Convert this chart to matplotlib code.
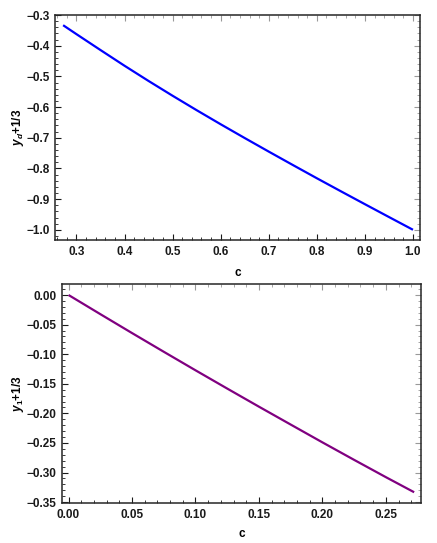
import matplotlib
matplotlib.use("Agg")
import matplotlib.pyplot as plt
from matplotlib.ticker import MultipleLocator, FuncFormatter

plt.rcParams['font.family'] = ['Liberation Sans', 'DejaVu Sans']
plt.rcParams['font.weight'] = 'bold'
plt.rcParams['mathtext.fontset'] = 'custom'
plt.rcParams['mathtext.it'] = 'Liberation Sans:italic:bold'
plt.rcParams['mathtext.rm'] = 'Liberation Sans:bold'
plt.rcParams['mathtext.bf'] = 'Liberation Sans:bold'

# upper panel: y_d + 1/3 against c
c_d = [0.2723, 0.30, 0.35, 0.40, 0.45, 0.50, 0.55, 0.60, 0.65, 0.70,
       0.75, 0.80, 0.85, 0.90, 0.95, 1.00]
y_d = [-0.3333, -0.3624, -0.4142, -0.4654, -0.5150, -0.5632, -0.6102,
       -0.6561, -0.7010, -0.7452, -0.7888, -0.8320, -0.8745, -0.9166,
       -0.9584, -1.0000]

# lower panel: y_1 + 1/3 against c
c_1 = [0.0, 0.025, 0.05, 0.075, 0.10, 0.125, 0.15, 0.175, 0.20, 0.225,
       0.25, 0.2723]
y_1 = [0.0, -0.0323, -0.0643, -0.0959, -0.1272, -0.1581, -0.1887,
       -0.2189, -0.2490, -0.2786, -0.3078, -0.3333]

W, H = 437, 543
fig = plt.figure(figsize=(W / 100, H / 100), dpi=100)


def fmt(nd):
    def f(v, pos):
        s = f'{v:.{nd}f}'
        if s.startswith('-'):
            s = '\u2212' + s[1:]
        return s
    return FuncFormatter(f)


def frame_axes(rect, xlim, ylim, xmaj, xmin, ymaj, ymin, nd):
    ax = fig.add_axes(rect)
    ax.set_xlim(*xlim)
    ax.set_ylim(*ylim)
    ax.xaxis.set_major_locator(MultipleLocator(xmaj))
    ax.xaxis.set_minor_locator(MultipleLocator(xmin))
    ax.yaxis.set_major_locator(MultipleLocator(ymaj))
    ax.yaxis.set_minor_locator(MultipleLocator(ymin))
    ax.xaxis.set_major_formatter(fmt(nd))
    ax.yaxis.set_major_formatter(fmt(nd))
    ax.tick_params(which='both', direction='in', color='0.1', labelsize=8.5,
                   labelcolor='0.1')
    ax.tick_params(which='major', length=4, width=0.8, pad=4)
    ax.tick_params(which='minor', length=2.2, width=0.6)
    for s in ax.spines.values():
        s.set_linewidth(1.1)
        s.set_color('0.15')

    # unlabelled ticks on the top and right, drawn lighter
    top = ax.secondary_xaxis('top')
    top.xaxis.set_major_locator(MultipleLocator(xmaj))
    top.xaxis.set_minor_locator(MultipleLocator(xmin))
    top.tick_params(which='both', direction='in', color='0.6', labeltop=False)
    top.tick_params(which='major', length=4, width=0.8)
    top.tick_params(which='minor', length=2.2, width=0.6)
    top.spines['top'].set_visible(False)
    right = ax.secondary_yaxis('right')
    right.yaxis.set_major_locator(MultipleLocator(ymaj))
    right.yaxis.set_minor_locator(MultipleLocator(ymin))
    right.tick_params(which='both', direction='in', color='0.6', labelright=False)
    right.tick_params(which='major', length=4, width=0.8)
    right.tick_params(which='minor', length=2.2, width=0.6)
    right.spines['right'].set_visible(False)
    return ax


ax1 = frame_axes([55 / W, 1 - 240 / H, 365 / W, 225 / H],
                 (0.2554, 1.0146), (-1.0333, -0.30),
                 0.1, 0.02, 0.1, 0.02, 1)
ax1.plot(c_d, y_d, color=(0, 0, 1), lw=1.6, solid_capstyle='butt')
ax1.set_xlabel('c', fontsize=8.5, fontweight='bold', labelpad=7)
ax1.set_ylabel(r'$y_d$+1/3', fontsize=8.5, fontweight='bold')
ax1.yaxis.set_label_coords(-0.080, 0.5)

ax2 = frame_axes([61.7 / W, 1 - 503.3 / H, 359.3 / W, 219.3 / H],
                 (-0.0054, 0.2777), (-0.352, 0.0186),
                 0.05, 0.01, 0.05, 0.01, 2)
ax2.plot(c_1, y_1, color=(0.5, 0, 0.5), lw=1.6, solid_capstyle='butt')
ax2.set_xlabel('c', fontsize=8.5, fontweight='bold', labelpad=5)
ax2.set_ylabel(r'$y_1$+1/3', fontsize=8.5, fontweight='bold')
ax2.yaxis.set_label_coords(-0.099, 0.5)

fig.savefig('out.png', dpi=100)
